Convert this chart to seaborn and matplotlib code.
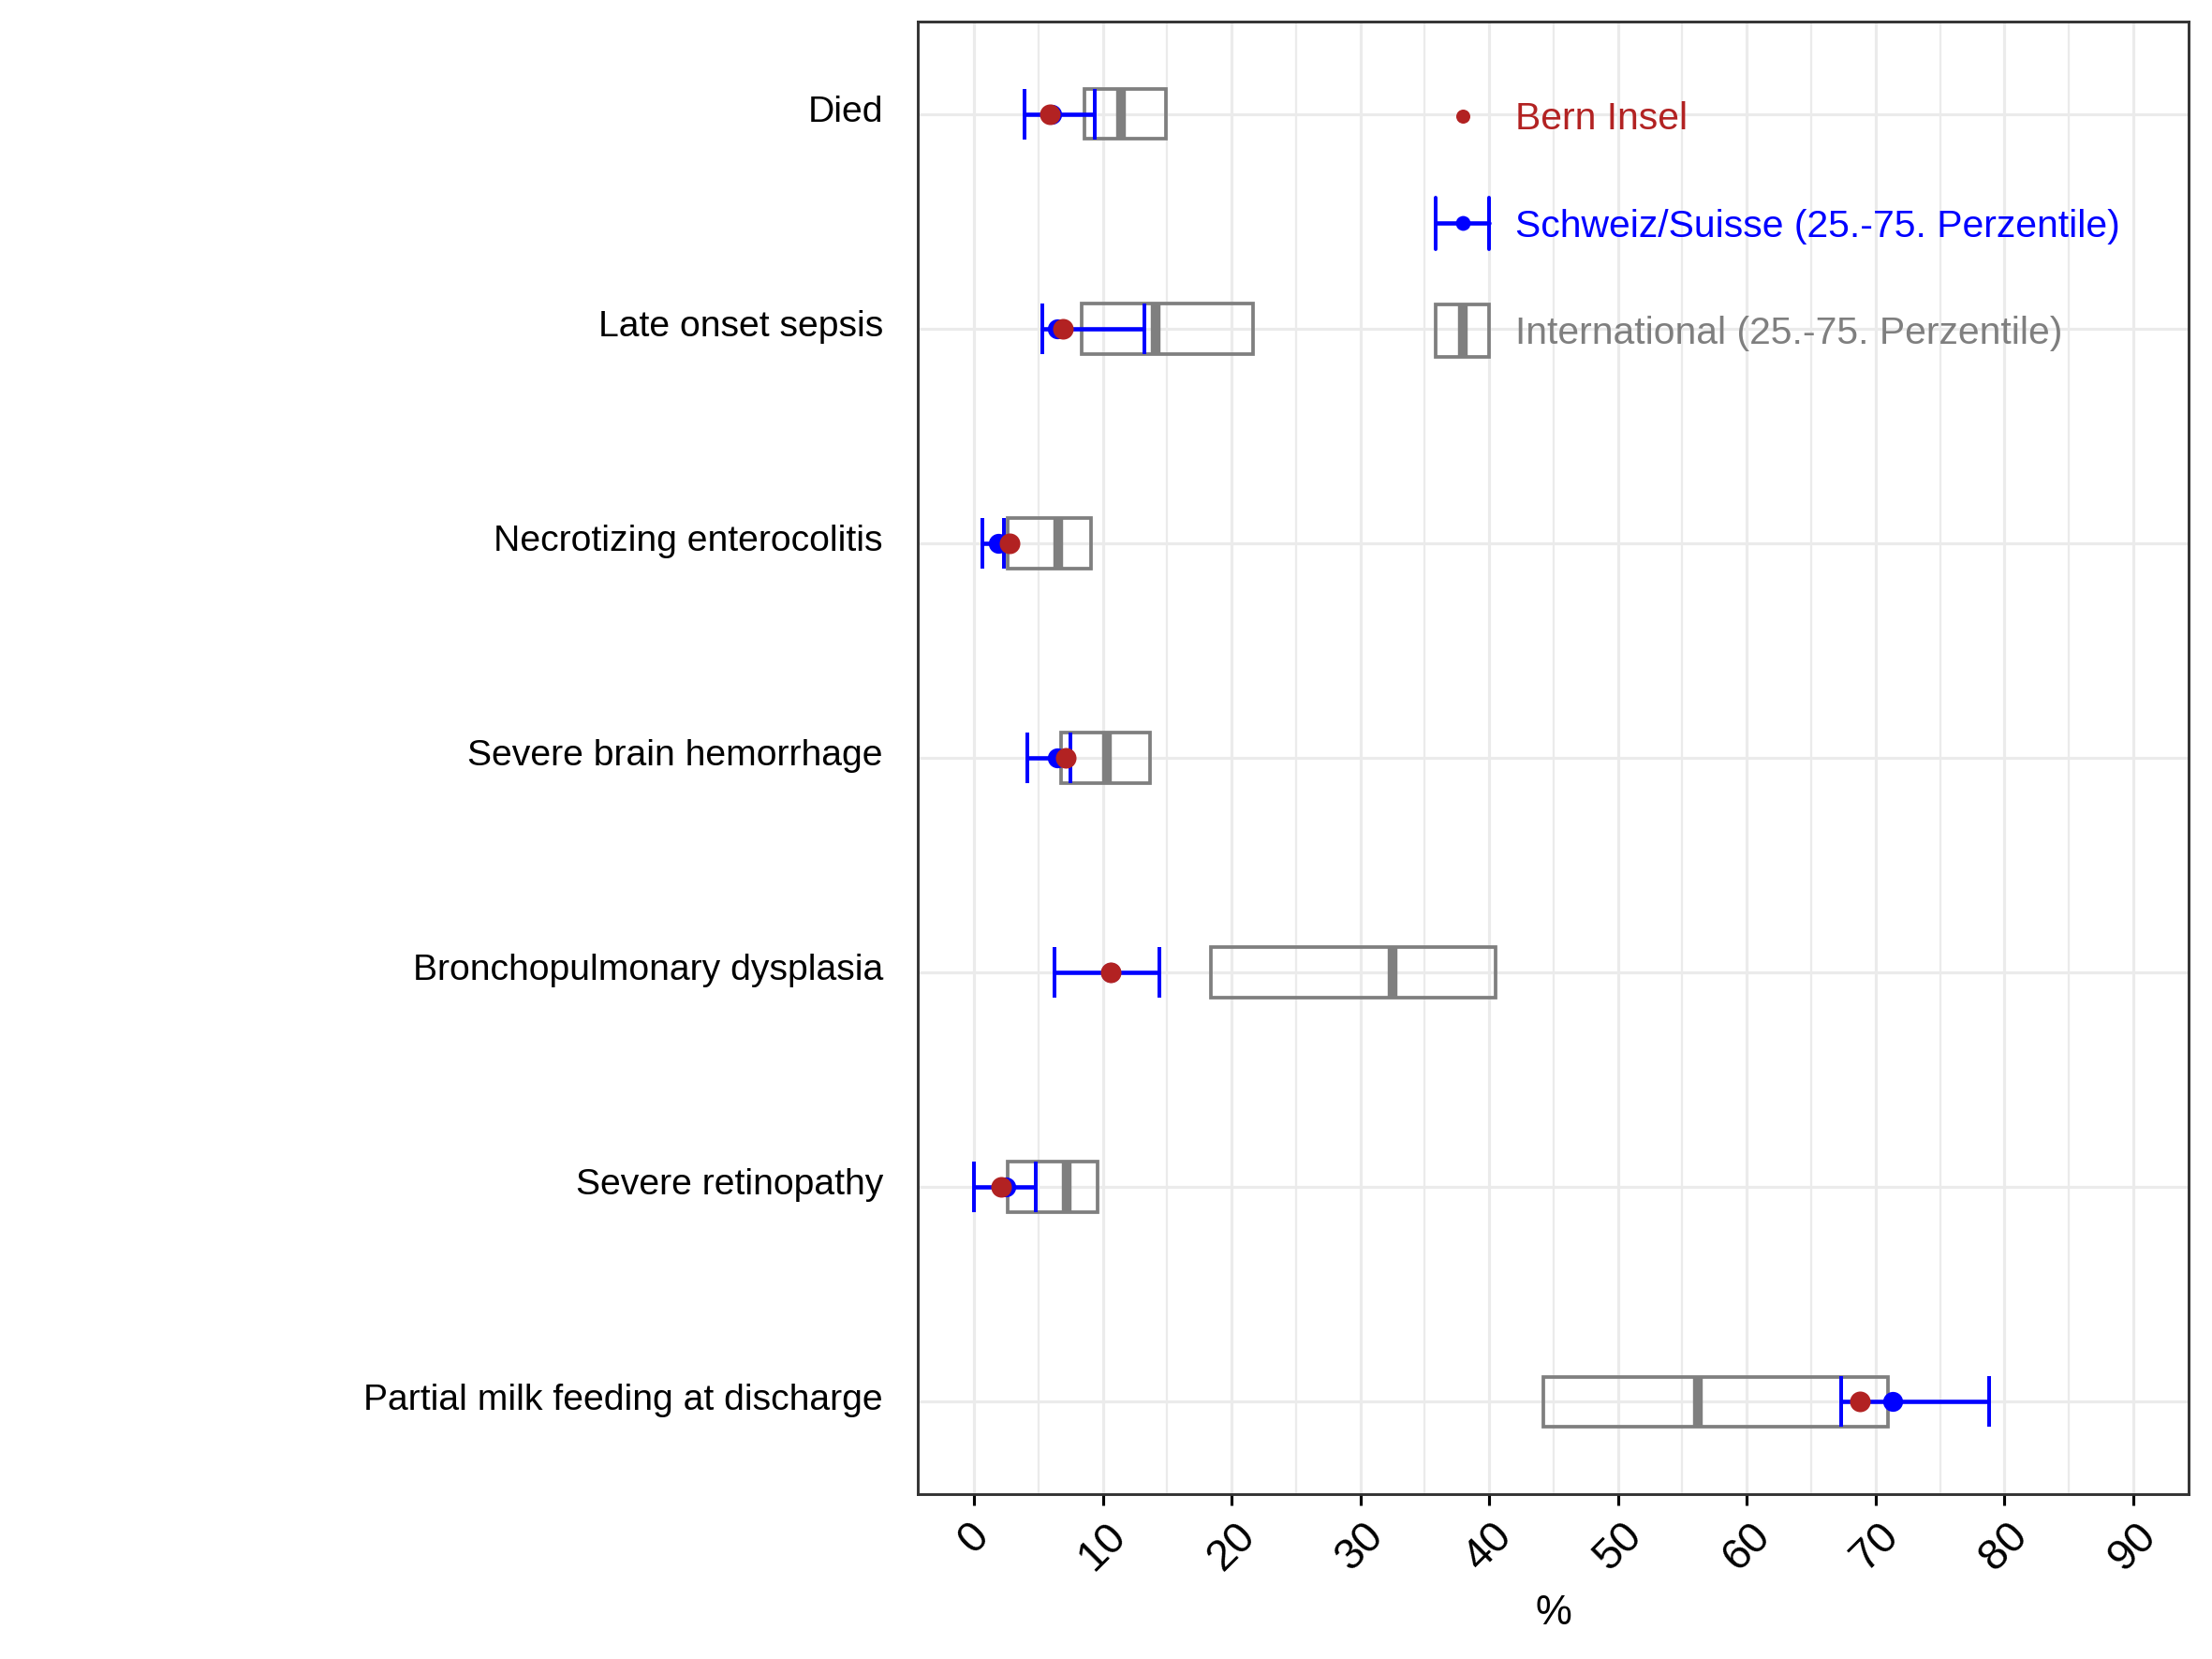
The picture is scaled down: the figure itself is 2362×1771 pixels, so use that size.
import numpy as np
import pandas as pd
import matplotlib.pyplot as plt
import seaborn as sns
from matplotlib.patches import Rectangle
from matplotlib.lines import Line2D
from matplotlib.legend_handler import HandlerBase
from matplotlib.transforms import ScaledTranslation

categories = ["Died", "Late onset sepsis", "Necrotizing enterocolitis",
              "Severe brain hemorrhage", "Bronchopulmonary dysplasia",
              "Severe retinopathy", "Partial milk feeding at discharge"]

# Bern Insel
bern = [5.9, 6.9, 2.8, 7.15, 10.6, 2.1, 68.8]
# Schweiz/Suisse median + 25./75. Perzentile
ch_med = [6.05, 6.5, 1.9, 6.5, 10.6, 2.5, 71.3]
ch_lo = [3.9, 5.3, 0.65, 4.14, 6.25, 0.0, 67.3]
ch_hi = [9.4, 13.2, 2.3, 7.5, 14.4, 4.8, 78.8]
# International median + 25./75. Perzentile
int_lo = [8.6, 8.4, 2.6, 6.75, 18.4, 2.6, 44.2]
int_med = [11.4, 14.1, 6.56, 10.3, 32.5, 7.2, 56.2]
int_hi = [14.9, 21.7, 9.1, 13.7, 40.5, 9.6, 71.0]

legend_labels = ["Bern Insel", "Schweiz/Suisse (25.-75. Perzentile)",
                 "International (25.-75. Perzentile)"]

RED = '#B22222'
BLUE = '#0000FF'
GREY = '#7F7F7F'

sns.set_theme(style='white')
plt.rcParams['font.family'] = ['Liberation Sans', 'DejaVu Sans']

df = pd.DataFrame({'cat': categories, 'pos': np.arange(len(categories)),
                   'bern': bern, 'ch_med': ch_med, 'ch_lo': ch_lo, 'ch_hi': ch_hi,
                   'int_lo': int_lo, 'int_med': int_med, 'int_hi': int_hi})

fig = plt.figure(figsize=(2362 / 300, 1771 / 300), dpi=300)
ax = fig.add_axes([0.4149, 0.0994, 0.5745, 0.8876])

bh = 0.235  # Boxhöhe

# International: Box mit Median
for _, r in df.iterrows():
    ax.add_patch(Rectangle((r.int_lo, r.pos - bh / 2), r.int_hi - r.int_lo, bh,
                           fill=False, ec=GREY, lw=0.9, zorder=2))
    ax.plot([r.int_med, r.int_med], [r.pos - bh / 2, r.pos + bh / 2],
            color=GREY, lw=2.5, solid_capstyle='butt', zorder=2)

# Schweiz: Fehlerbalken
ax.errorbar(df.ch_med, df.pos, xerr=[df.ch_med - df.ch_lo, df.ch_hi - df.ch_med],
            fmt='none', ecolor=BLUE, elinewidth=1.1, capsize=6.4, capthick=0.95, zorder=3)
sns.scatterplot(data=df, x='ch_med', y='pos', color=BLUE, s=26, linewidth=0,
                ax=ax, zorder=4)
sns.scatterplot(data=df, x='bern', y='pos', color=RED, s=28, linewidth=0,
                ax=ax, zorder=5)

# Achsen
ax.set_xlim(-4.36, 94.3)
ax.set_ylim(6.43, -0.43)
ax.set_xticks(np.arange(0, 91, 10))
ax.set_xticks(np.arange(5, 90, 10), minor=True)
ax.set_yticks(df.pos, categories)
ax.grid(which='major', color='#EBEBEB', lw=0.75)
ax.grid(which='minor', axis='x', color='#EBEBEB', lw=0.55)
ax.set_axisbelow(True)

ax.tick_params(axis='y', length=0, pad=8.9, labelsize=9.4, labelcolor='black')
ax.tick_params(axis='x', which='major', bottom=True, length=2.9, width=0.75,
               color='black', pad=2.5, labelsize=11.2, labelcolor='black')
ax.tick_params(axis='x', which='minor', length=0)
for lab in ax.get_xticklabels():
    lab.set_rotation(45)
    lab.set_ha('center')
# y-Labels etwas anheben
shift = ScaledTranslation(0, 1.4 / 72, fig.dpi_scale_trans)
for lab in ax.get_yticklabels():
    lab.set_transform(lab.get_transform() + shift)

ax.set_xlabel('%', fontsize=10.5, labelpad=4, color='black')
ax.set_ylabel('')
for sp in ax.spines.values():
    sp.set_color('#333333')
    sp.set_linewidth(0.7)


# Legende
class ErrKey(HandlerBase):
    def create_artists(self, legend, orig, xd, yd, w, h, fs, trans):
        x0, x1, yc = -xd, -xd + w, -yd + h / 2
        cap = 6.6
        arts = [Line2D([x0, x1], [yc, yc], color=BLUE, lw=1.1),
                Line2D([x0, x0], [yc - cap, yc + cap], color=BLUE, lw=0.95),
                Line2D([x1, x1], [yc - cap, yc + cap], color=BLUE, lw=0.95),
                Line2D([(x0 + x1) / 2], [yc], marker='o', color=BLUE, ms=3.8, mew=0)]
        for a in arts:
            a.set_transform(trans)
        return arts


class BoxKey(HandlerBase):
    def create_artists(self, legend, orig, xd, yd, w, h, fs, trans):
        x0, yc = -xd, -yd + h / 2
        hh = 6.8
        rect = Rectangle((x0, yc - hh), w, 2 * hh, fill=False, ec=GREY, lw=0.9)
        med = Line2D([x0 + w / 2] * 2, [yc - hh, yc + hh], color=GREY, lw=2.5,
                     solid_capstyle='butt')
        for a in (rect, med):
            a.set_transform(trans)
        return [rect, med]


h_bern = Line2D([], [], marker='o', color=RED, ls='none', ms=3.6, mew=0)
h_ch = Line2D([], [])
h_int = Rectangle((0, 0), 1, 1)
ax.legend([h_bern, h_ch, h_int], legend_labels,
          handler_map={h_ch: ErrKey(), h_int: BoxKey()},
          loc='upper left', bbox_to_anchor=(0.4075, 0.946), frameon=False,
          borderpad=0, borderaxespad=0, fontsize=9.8, labelspacing=1.88,
          handlelength=1.4, handletextpad=0.69,
          labelcolor=[RED, BLUE, GREY])

fig.savefig('out.png', dpi=300)
